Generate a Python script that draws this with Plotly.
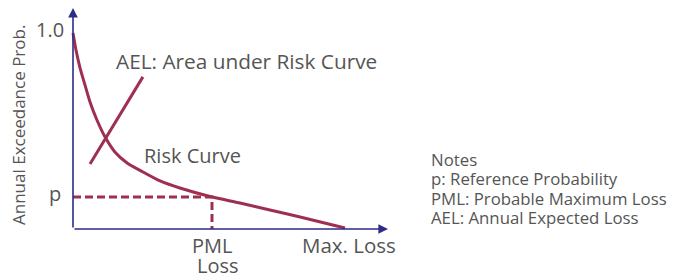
import plotly.graph_objects as go

# Risk curve (loss normalized so Max. Loss = 1, probability 1.0 at top)
curve_loss = [0.0, 0.011, 0.026, 0.044, 0.0625, 0.088, 0.118, 0.154, 0.199, 0.257,
              0.320, 0.393, 0.511, 0.614, 0.724, 0.835, 1.0]
curve_prob = [1.0, 0.913, 0.821, 0.735, 0.648, 0.556, 0.469, 0.393, 0.337, 0.291,
              0.245, 0.209, 0.163, 0.133, 0.097, 0.061, 0.005]

# AEL pointer line
ael_loss = [0.0625, 0.257]
ael_prob = [0.332, 0.776]

# Reference probability and PML
p_value = 0.163
pml_loss = 0.511
max_loss = 1.0

notes = ["Notes", "p: Reference Probability", "PML: Probable Maximum Loss", "AEL: Annual Expected Loss"]

CURVE = "#9E2F50"
AXIS = "#2E2B8A"
TEXT = "#555555"
FONT = "Open Sans"

# page body has an 8px margin: figure is drawn from screen pixel 8
OFF = 8
W, H = 677, 280


def px(xp):
    return (xp - 73) / 272.0


def py(yp):
    return (229 - yp) / 196.0


fig = go.Figure()

fig.add_trace(go.Scatter(x=curve_loss, y=curve_prob, mode="lines",
                         line=dict(color=CURVE, width=3, shape="spline", smoothing=0.6),
                         hoverinfo="skip"))
fig.add_trace(go.Scatter(x=ael_loss, y=ael_prob, mode="lines",
                         line=dict(color=CURVE, width=3), hoverinfo="skip"))
fig.add_trace(go.Scatter(x=[0, pml_loss, pml_loss], y=[p_value, p_value, 0], mode="lines",
                         line=dict(color=CURVE, width=3, dash="8px,4px"), hoverinfo="skip"))

# axes with arrows
fig.add_annotation(x=px(388), y=0, ax=0, ay=0, xref="x", yref="y", axref="x", ayref="y",
                   showarrow=True, arrowhead=2, arrowsize=1.2, arrowwidth=1.6, arrowcolor=AXIS, text="")
fig.add_annotation(x=0, y=py(8), ax=0, ay=0, xref="x", yref="y", axref="x", ayref="y",
                   showarrow=True, arrowhead=2, arrowsize=1.2, arrowwidth=1.6, arrowcolor=AXIS, text="")


def txt(x, y, s, size=20, xanchor="center", yanchor="middle", align="center", angle=0):
    fig.add_annotation(x=px(x), y=py(y), xref="x", yref="y", text=s, showarrow=False,
                       font=dict(family=FONT, size=size, color=TEXT),
                       xanchor=xanchor, yanchor=yanchor, align=align, textangle=angle)


txt(50, 29, "1.0", size=20)
txt(114, 61, "AEL: Area under Risk Curve", size=20.8, xanchor="left")
txt(142, 155, "Risk Curve", size=20, xanchor="left")
txt(55, 193, "p", size=20)
txt(212, 245, "PML", size=20)
txt(218, 265, "Loss", size=20)
txt(349, 245, "Max. Loss", size=20.5)
txt(18, 125, "Annual Exceedance Prob.", size=17, angle=-90)
for i, line in enumerate(notes):
    txt(429, 159 + 19.6 * i, line, size=16.8, xanchor="left", align="left")

fig.update_layout(
    width=W - OFF, height=H - OFF, margin=dict(l=0, r=0, t=0, b=0),
    paper_bgcolor="white", plot_bgcolor="white", showlegend=False,
    xaxis=dict(range=[px(OFF), px(W)], visible=False, fixedrange=True),
    yaxis=dict(range=[py(H), py(OFF)], visible=False, fixedrange=True),
)

fig.write_html("out.html")
